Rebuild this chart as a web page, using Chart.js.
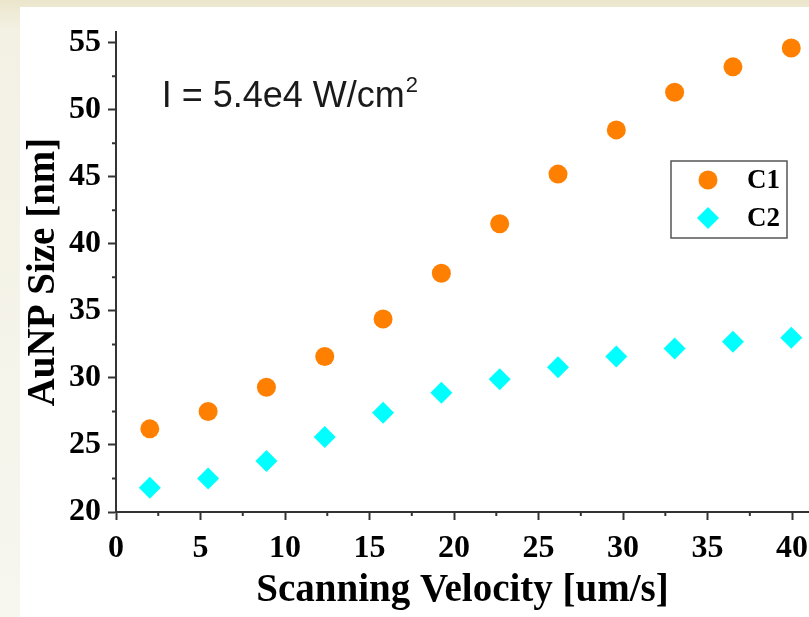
<!DOCTYPE html>
<html>
<head>
<meta charset="utf-8">
<script src="https://cdn.jsdelivr.net/npm/chart.js@4"></script>
<style>
  html, body { margin: 0; padding: 0; }
  body {
    width: 809px; height: 617px; overflow: hidden;
    background: linear-gradient(to bottom, #ebe6cb 0px, #f3f1e4 30px, #f7f6ef 100%);
    position: relative;
  }
  #panel {
    position: absolute; left: 20px; top: 7px;
    width: 789px; height: 610px; background: #ffffff;
  }
</style>
</head>
<body>
<div id="panel"><canvas id="myChart" width="789" height="610"></canvas></div>
<script>
// values
const velocity = [2.0, 5.45, 8.9, 12.35, 15.8, 19.25, 22.7, 26.15, 29.6, 33.05, 36.5, 39.95];
const sizeC1 = [26.2, 27.5, 29.3, 31.6, 34.4, 37.8, 41.5, 45.2, 48.5, 51.3, 53.2, 54.6];
const sizeC2 = [21.8, 22.5, 23.8, 25.6, 27.4, 28.9, 29.9, 30.8, 31.6, 32.2, 32.7, 33.0];
const seriesNames = ['C1', 'C2'];
const xTicks = [0, 5, 10, 15, 20, 25, 30, 35, 40];
const yTicks = [20, 25, 30, 35, 40, 45, 50, 55];

const axisColor = '#333333';
const serif = '"Liberation Serif", "Times New Roman", serif';

function toPoints(xs, ys) {
  return xs.map((x, i) => ({ x: x, y: ys[i] }));
}

// short minor ticks halfway between the labelled ones
const minorTicks = {
  id: 'minorTicks',
  afterDraw(chart) {
    const ctx = chart.ctx;
    const xs = chart.scales.x, ys = chart.scales.y;
    ctx.save();
    ctx.strokeStyle = axisColor;
    ctx.lineWidth = 2;
    ctx.beginPath();
    for (let v = 2.5; v < xs.max; v += 5) {
      const px = xs.getPixelForValue(v);
      ctx.moveTo(px, xs.top);
      ctx.lineTo(px, xs.top + 4);
    }
    for (let v = 22.5; v < ys.max; v += 5) {
      const py = ys.getPixelForValue(v);
      ctx.moveTo(ys.right, py);
      ctx.lineTo(ys.right - 4, py);
    }
    ctx.stroke();
    ctx.restore();
  }
};

// the intensity note and the boxed legend inside the plot
const insideText = {
  id: 'insideText',
  afterDraw(chart) {
    const ctx = chart.ctx;
    const xs = chart.scales.x, ys = chart.scales.y;
    ctx.save();

    // annotation anchored to data coordinates
    const ax = xs.getPixelForValue(2.7);
    const ay = ys.getPixelForValue(50.2);
    ctx.fillStyle = '#1a1a1a';
    ctx.textBaseline = 'alphabetic';
    ctx.textAlign = 'left';
    ctx.font = '36px "Liberation Sans", Arial, sans-serif';
    const main = 'I = 5.4e4 W/cm';
    ctx.fillText(main, ax, ay);
    const w = ctx.measureText(main).width;
    ctx.font = '22px "Liberation Sans", Arial, sans-serif';
    ctx.fillText('2', ax + w + 1, ay - 15);

    // legend box
    const bx = 651, by = 154, bw = 116, bh = 77;
    ctx.strokeStyle = '#555555';
    ctx.lineWidth = 1.5;
    ctx.strokeRect(bx, by, bw, bh);
    chart.data.datasets.forEach((ds, i) => {
      const cy = by + 19 + i * 38;
      ctx.fillStyle = ds.backgroundColor;
      Chart.helpers.drawPoint(ctx, {
        pointStyle: ds.pointStyle,
        radius: ds.pointRadius,
        borderWidth: 0
      }, bx + 37, cy);
      ctx.fillStyle = '#000000';
      ctx.font = 'bold 27px ' + serif;
      ctx.textBaseline = 'middle';
      ctx.fillText(ds.label, bx + 76, cy + 1);
    });
    ctx.restore();
  }
};

const ctx = document.getElementById('myChart');

new Chart(ctx, {
  type: 'scatter',
  data: {
    datasets: [
      {
        label: seriesNames[0],
        data: toPoints(velocity, sizeC1),
        pointStyle: 'circle',
        pointRadius: 9.5,
        pointHoverRadius: 9.5,
        backgroundColor: '#ff8000',
        borderWidth: 0,
      },
      {
        label: seriesNames[1],
        data: toPoints(velocity, sizeC2),
        pointStyle: 'rectRot',
        pointRadius: 11,
        pointHoverRadius: 11,
        backgroundColor: '#00ffff',
        borderWidth: 0,
      },
    ],
  },
  options: {
    responsive: false,
    animation: false,
    events: [],
    layout: { autoPadding: false, padding: { top: 25, right: 0, left: 0, bottom: 0 } },
    scales: {
      x: {
        type: 'linear',
        min: 0,
        max: 41,
        afterBuildTicks: (s) => { s.ticks = xTicks.map(v => ({ value: v })); },
        afterFit: (s) => { s.height = 105; s.paddingLeft = 0; s.paddingRight = 0; },
        border: { display: true, color: axisColor, width: 2 },
        grid: { drawOnChartArea: false, drawTicks: true, tickLength: 8, tickColor: axisColor, tickWidth: 2 },
        ticks: {
          color: '#000000',
          padding: 10,
          maxRotation: 0,
          autoSkip: false,
          font: { family: serif, size: 32, weight: 'bold' },
        },
        title: {
          display: true,
          text: 'Scanning Velocity [um/s]',
          color: '#000000',
          padding: { top: 0, bottom: 3 },
          font: { family: serif, size: 39, weight: 'bold' },
        },
      },
      y: {
        type: 'linear',
        min: 20,
        max: 55.8,
        afterBuildTicks: (s) => { s.ticks = yTicks.map(v => ({ value: v })); },
        afterFit: (s) => { s.width = 96; s.paddingTop = 0; s.paddingBottom = 0; },
        border: { display: true, color: axisColor, width: 2 },
        grid: { drawOnChartArea: false, drawTicks: true, tickLength: 8, tickColor: axisColor, tickWidth: 2 },
        ticks: {
          color: '#000000',
          padding: 7,
          autoSkip: false,
          font: { family: serif, size: 32, weight: 'bold' },
        },
        title: {
          display: true,
          text: 'AuNP Size [nm]',
          color: '#000000',
          padding: { top: 1, bottom: 0 },
          font: { family: serif, size: 39, weight: 'bold' },
        },
      },
    },
    plugins: {
      legend: { display: false },
      title: { display: false },
      tooltip: { enabled: false },
    },
  },
  plugins: [minorTicks, insideText],
});
</script>
</body>
</html>
